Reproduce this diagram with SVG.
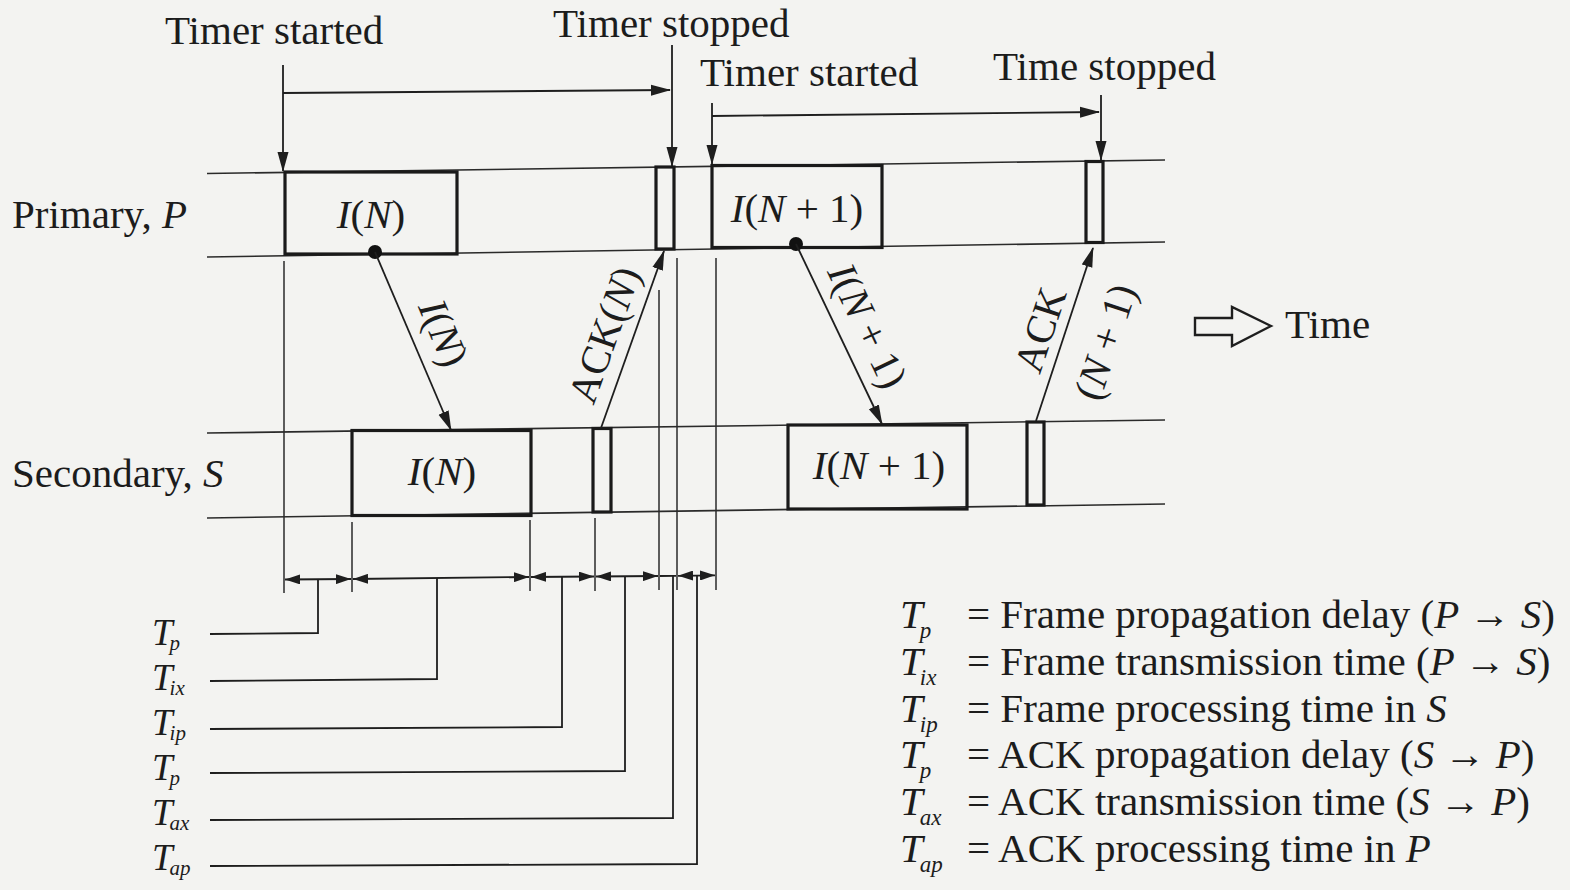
<svg xmlns="http://www.w3.org/2000/svg" width="1570" height="890" viewBox="0 0 1570 890">
<defs>
<marker id="arr" markerUnits="userSpaceOnUse" markerWidth="20" markerHeight="12" refX="19" refY="6" orient="auto"><path d="M0,0.5 L20,6 L0,11.5 z" fill="#1e1e1e"/></marker>
<marker id="dim" markerUnits="userSpaceOnUse" markerWidth="15" markerHeight="10" refX="15" refY="5" orient="auto-start-reverse"><path d="M0,0 L15,5 L0,10 z" fill="#1e1e1e"/></marker>
</defs>
<style>
text{font-family:"Liberation Serif","Times New Roman",serif;fill:#1c1c1c;}
.t{font-size:41px;}
.lg{font-size:41px;}
.tl{font-size:37px;}
.i{font-style:italic;}
.sub{font-size:23px;font-style:italic;}
.subl{font-size:21px;font-style:italic;}
.lane{stroke:#2a2a2a;stroke-width:1.6;fill:none;}
.box{stroke:#1a1a1a;stroke-width:3.2;fill:none;}
.guide{stroke:#2a2a2a;stroke-width:1.5;fill:none;}
.con{stroke:#1e1e1e;stroke-width:1.8;fill:none;}
.lead{stroke:#1e1e1e;stroke-width:1.8;fill:none;}
</style>
<rect width="1570" height="890" fill="#f3f3f1"/>

<g id="lane-primary">
<line class="lane" x1="207" y1="173.5" x2="1165" y2="160"/>
<line class="lane" x1="207" y1="257" x2="1165" y2="242"/>
<text class="t" x="12" y="228">Primary, <tspan class="i">P</tspan></text>
</g>
<g id="lane-secondary">
<line class="lane" x1="207" y1="433" x2="1165" y2="420"/>
<line class="lane" x1="207" y1="518" x2="1165" y2="504"/>
<text class="t" x="12" y="487">Secondary, <tspan class="i">S</tspan></text>
</g>

<g id="p-frame-n">
<rect class="box" x="285" y="172" width="172" height="82"/>
<text class="t" x="371" y="228" text-anchor="middle"><tspan class="i">I</tspan>(<tspan class="i">N</tspan>)</text>
</g>
<g id="p-ack-n"><rect class="box" x="656" y="167" width="18" height="82"/></g>
<g id="p-frame-n1">
<rect class="box" x="712" y="165.5" width="170" height="82"/>
<text class="t" x="797" y="222" text-anchor="middle"><tspan class="i">I</tspan>(<tspan class="i">N</tspan> + 1)</text>
</g>
<g id="p-ack-n1"><rect class="box" x="1086" y="161.5" width="17" height="81"/></g>

<g id="s-frame-n">
<rect class="box" x="352" y="430.5" width="179" height="85"/>
<text class="t" x="442" y="485" text-anchor="middle"><tspan class="i">I</tspan>(<tspan class="i">N</tspan>)</text>
</g>
<g id="s-ack-n"><rect class="box" x="593" y="428.5" width="18" height="83.5"/></g>
<g id="s-frame-n1">
<rect class="box" x="788" y="425" width="179" height="84"/>
<text class="t" x="879" y="479" text-anchor="middle"><tspan class="i">I</tspan>(<tspan class="i">N</tspan> + 1)</text>
</g>
<g id="s-ack-n1"><rect class="box" x="1027" y="422" width="17" height="83"/></g>

<g id="timer-labels">
<text class="t" x="165" y="44">Timer started</text>
<text class="t" x="553" y="37">Timer stopped</text>
<text class="t" x="700" y="86">Timer started</text>
<text class="t" x="993" y="80">Time stopped</text>
</g>

<g id="time-indicator">
<polygon points="1195,318 1232,318 1232,307 1271,326 1232,346 1232,335 1195,335" fill="none" stroke="#1e1e1e" stroke-width="2.4"/>
<text class="t" x="1285" y="338">Time</text>
</g>

<g id="connectors">
<line class="con" x1="283" y1="65" x2="283" y2="171" marker-end="url(#arr)"/>
<line class="con" x1="283" y1="93" x2="670" y2="90" marker-end="url(#arr)"/>
<line class="con" x1="672" y1="45" x2="672" y2="166" marker-end="url(#arr)"/>
<line class="con" x1="712" y1="103" x2="712" y2="164" marker-end="url(#arr)"/>
<line class="con" x1="712" y1="116" x2="1099" y2="112" marker-end="url(#arr)"/>
<line class="con" x1="1101" y1="95" x2="1101" y2="160" marker-end="url(#arr)"/>

<circle cx="375" cy="252" r="7" fill="#111"/>
<line class="con" x1="375" y1="252" x2="451" y2="430" marker-end="url(#arr)"/>
<line class="con" x1="601" y1="428" x2="664" y2="251" marker-end="url(#arr)"/>
<circle cx="796" cy="244" r="7" fill="#111"/>
<line class="con" x1="796" y1="244" x2="882" y2="424" marker-end="url(#arr)"/>
<line class="con" x1="1036" y1="421" x2="1093" y2="248" marker-end="url(#arr)"/>

<text class="t" transform="translate(443,333) rotate(67)" y="13" text-anchor="middle"><tspan class="i">I</tspan>(<tspan class="i">N</tspan>)</text>
<text class="t" transform="translate(605,335) rotate(-70.4)" y="13" text-anchor="middle">ACK(<tspan class="i">N</tspan>)</text>
<text class="t" transform="translate(867,326) rotate(64.5)" y="13" text-anchor="middle"><tspan class="i">I</tspan>(<tspan class="i">N</tspan> + 1)</text>
<text class="t" transform="translate(1041,330) rotate(-71.6)" y="13" text-anchor="middle">ACK</text>
<text class="t" transform="translate(1106,342) rotate(-71.6)" y="13" text-anchor="middle">(<tspan class="i">N</tspan> + 1)</text>

<line class="guide" x1="284" y1="261" x2="284" y2="593"/>
<line class="guide" x1="352" y1="522" x2="352" y2="592"/>
<line class="guide" x1="530" y1="520" x2="530" y2="591"/>
<line class="guide" x1="595" y1="518" x2="595" y2="591"/>
<line class="guide" x1="659" y1="290" x2="659" y2="590"/>
<line class="guide" x1="677" y1="258" x2="677" y2="590"/>
<line class="guide" x1="716" y1="258" x2="716" y2="590"/>

<line class="con" x1="285" y1="579.5" x2="351" y2="579" marker-start="url(#dim)" marker-end="url(#dim)"/>
<line class="con" x1="353" y1="579" x2="529" y2="577" marker-start="url(#dim)" marker-end="url(#dim)"/>
<line class="con" x1="531" y1="577" x2="594" y2="576.5" marker-start="url(#dim)" marker-end="url(#dim)"/>
<line class="con" x1="596" y1="576.5" x2="658" y2="576" marker-start="url(#dim)" marker-end="url(#dim)"/>
<line class="con" x1="660" y1="576" x2="676" y2="575.8"/>
<line class="con" x1="678" y1="575.8" x2="715" y2="575.3" marker-start="url(#dim)" marker-end="url(#dim)"/>

<polyline class="lead" points="318,579 318,633 210,634"/>
<polyline class="lead" points="437,578 437,679 210,681"/>
<polyline class="lead" points="562,577 562,727 210,729"/>
<polyline class="lead" points="625,576 625,771 210,773"/>
<polyline class="lead" points="673,576 673,818 210,820"/>
<polyline class="lead" points="697,575 697,864 210,866"/>
</g>

<g id="interval-labels">
<text class="tl" x="152" y="645"><tspan class="i">T</tspan><tspan class="subl" dx="-3" dy="5">p</tspan></text>
<text class="tl" x="152" y="690"><tspan class="i">T</tspan><tspan class="subl" dx="-3" dy="5">ix</tspan></text>
<text class="tl" x="152" y="735"><tspan class="i">T</tspan><tspan class="subl" dx="-3" dy="5">ip</tspan></text>
<text class="tl" x="152" y="780"><tspan class="i">T</tspan><tspan class="subl" dx="-3" dy="5">p</tspan></text>
<text class="tl" x="152" y="825"><tspan class="i">T</tspan><tspan class="subl" dx="-3" dy="5">ax</tspan></text>
<text class="tl" x="152" y="870"><tspan class="i">T</tspan><tspan class="subl" dx="-3" dy="5">ap</tspan></text>
</g>

<g id="legend">
<text class="lg" x="900" y="628"><tspan class="i">T</tspan><tspan class="sub" dx="-3" dy="10">p</tspan></text>
<text class="lg" x="967" y="628">= Frame propagation delay (<tspan class="i">P</tspan> → <tspan class="i">S</tspan>)</text>
<text class="lg" x="900" y="675"><tspan class="i">T</tspan><tspan class="sub" dx="-3" dy="10">ix</tspan></text>
<text class="lg" x="967" y="675">= Frame transmission time (<tspan class="i">P</tspan> → <tspan class="i">S</tspan>)</text>
<text class="lg" x="900" y="722"><tspan class="i">T</tspan><tspan class="sub" dx="-3" dy="10">ip</tspan></text>
<text class="lg" x="967" y="722">= Frame processing time in <tspan class="i">S</tspan></text>
<text class="lg" x="900" y="768"><tspan class="i">T</tspan><tspan class="sub" dx="-3" dy="10">p</tspan></text>
<text class="lg" x="967" y="768">= ACK propagation delay (<tspan class="i">S</tspan> → <tspan class="i">P</tspan>)</text>
<text class="lg" x="900" y="815"><tspan class="i">T</tspan><tspan class="sub" dx="-3" dy="10">ax</tspan></text>
<text class="lg" x="967" y="815">= ACK transmission time (<tspan class="i">S</tspan> → <tspan class="i">P</tspan>)</text>
<text class="lg" x="900" y="862"><tspan class="i">T</tspan><tspan class="sub" dx="-3" dy="10">ap</tspan></text>
<text class="lg" x="967" y="862">= ACK processing time in <tspan class="i">P</tspan></text>
</g>
</svg>
